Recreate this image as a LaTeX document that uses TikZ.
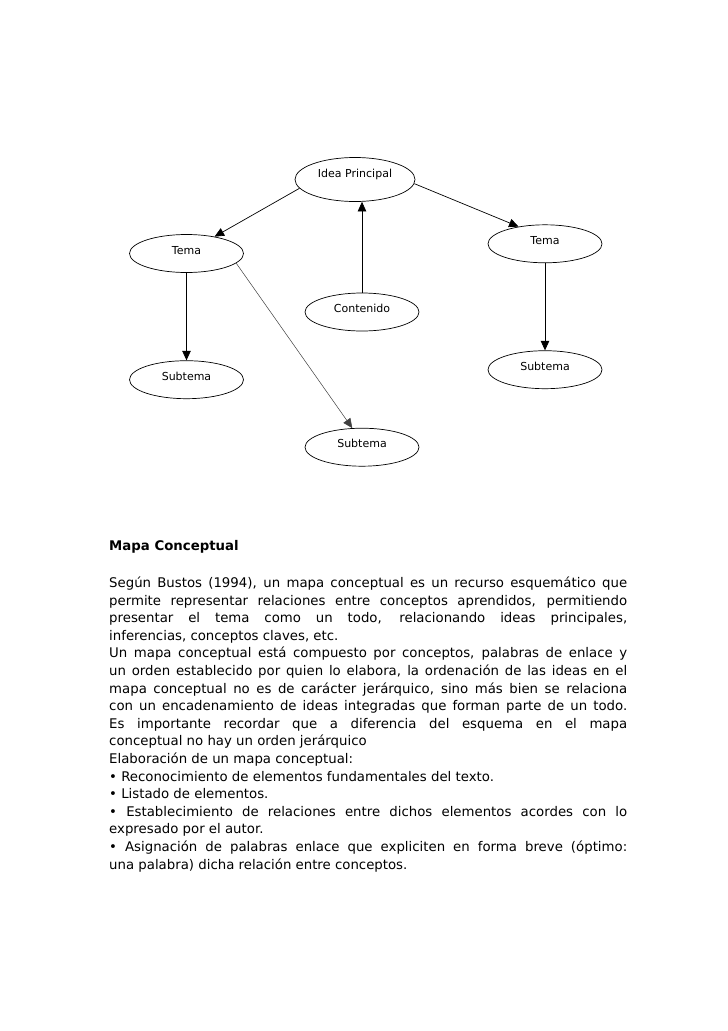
\documentclass[tikz,border=0pt]{standalone}
\usepackage{fontspec}
\setmainfont{DejaVu Sans}
\usetikzlibrary{shapes.geometric,arrows.meta}
\begin{document}
\begin{tikzpicture}[x=1pt,y=-1pt,
  concept/.style={ellipse,draw=black,line width=0.7pt,minimum width=114pt,
    minimum height=38pt,inner sep=0pt,text height=7pt,text depth=6pt,
    font=\fontsize{11}{12}\selectfont},
  link/.style={draw=black,line width=0.7pt,-{Triangle[length=9.5pt,width=8.5pt]}},
  thinlink/.style={link,draw=black!75,line width=0.5pt},
  title/.style={anchor=base west,inner sep=0pt,font=\bfseries\fontsize{13.3}{17.6}\selectfont},
  body/.style={anchor=base west,inner sep=0pt,text width=518pt,align=justify,
    font=\fontsize{13.3}{17.6}\selectfont}]
\useasboundingbox[fill=white] (0,0) rectangle (728,1031);
% concept map
\node[concept,minimum width=120pt,minimum height=44pt,text depth=12pt] (ip) at (355,179.5) {Idea Principal};
\node[concept] (tl) at (186.5,253.5) {Tema};
\node[concept] (tr) at (545,243.8) {Tema};
\node[concept] (cont) at (362,312) {Contenido};
\node[concept] (sl) at (186.5,379.7) {Subtema};
\node[concept] (sr) at (545,369.7) {Subtema};
\node[concept] (sb) at (362,447.2) {Subtema};
\draw[link] (ip.189) -- (tl.31);
\draw[link] (ip.356) -- (tr.147);
\draw[link] (cont.north) -- (cont.north |- ip.south);
\draw[link] (tl.south) -- (sl.north);
\draw[link] (tr.south) -- (sr.north);
\draw[thinlink] (tl.349) -- (sb.117);
% text
\node[title] (ttl) at (109,550.5) {Mapa Conceptual};
\node[body] (txt) at (109,587.5) {%
Según Bustos (1994), un mapa conceptual es un recurso esquemático que\linebreak
permite representar relaciones entre conceptos aprendidos, permitiendo\linebreak
presentar el tema como un todo, relacionando ideas principales,\linebreak
inferencias, conceptos claves, etc.\par
Un mapa conceptual está compuesto por conceptos, palabras de enlace y\linebreak
un orden establecido por quien lo elabora, la ordenación de las ideas en el\linebreak
mapa conceptual no es de carácter jerárquico, sino más bien se relaciona\linebreak
con un encadenamiento de ideas integradas que forman parte de un todo.\linebreak
Es importante recordar que a diferencia del esquema en el mapa\linebreak
conceptual no hay un orden jerárquico\par
Elaboración de un mapa conceptual:\par
• Reconocimiento de elementos fundamentales del texto.\par
• Listado de elementos.\par
• Establecimiento de relaciones entre dichos elementos acordes con lo\linebreak
expresado por el autor.\par
• Asignación de palabras enlace que expliciten en forma breve (óptimo:\linebreak
una palabra) dicha relación entre conceptos.\par};
\end{tikzpicture}
\end{document}
